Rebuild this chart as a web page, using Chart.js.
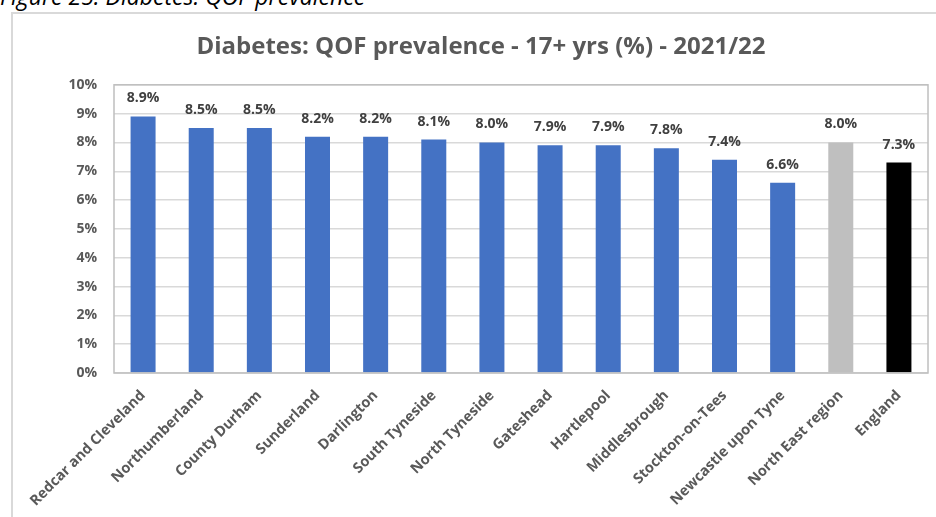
<!DOCTYPE html>
<html>
<head>
<meta charset="utf-8">
<script src="https://cdn.jsdelivr.net/npm/chart.js@4.4.1/dist/chart.umd.min.js"></script>
<style>
    body { margin: 0; width: 936px; height: 517px; overflow: hidden; background: #fff; position: relative; }
    .caption { position: absolute; left: 0; top: -15px; font-family: "Open Sans", sans-serif; font-style: italic; font-size: 23px; line-height: 1; color: #000; white-space: nowrap; }
    .frame { position: absolute; left: 11px; top: 12px; width: 960px; height: 540px; border: 2px solid #d9d9d9; box-sizing: border-box; }
    .chart_box { position: absolute; left: 0; top: 0; width: 936px; height: 517px; }
</style>
</head>
<body>
<div class="caption">Figure 25: Diabetes: QOF prevalence</div>
<div class="frame"></div>
<div class="chart_box"><canvas id="myChart"></canvas></div>

<script>
// chart data
const areas = ["Redcar and Cleveland", "Northumberland", "County Durham", "Sunderland", "Darlington",
    "South Tyneside", "North Tyneside", "Gateshead", "Hartlepool", "Middlesbrough",
    "Stockton-on-Tees", "Newcastle upon Tyne", "North East region", "England"];
const prevalence = [8.9, 8.5, 8.5, 8.2, 8.2, 8.1, 8.0, 7.9, 7.9, 7.8, 7.4, 6.6, 8.0, 7.3];
const yTicks = [0, 1, 2, 3, 4, 5, 6, 7, 8, 9, 10];

// bar colours: local authorities blue, region grey, England black
const barColors = areas.map(name => {
    if (name === "North East region") return "#BFBFBF";
    if (name === "England") return "#000000";
    return "#4472C4";
});

// value labels above bars + plot area border
const valueLabels = {
    id: "valueLabels",
    afterDatasetsDraw(chart) {
        const ctx = chart.ctx;
        const area = chart.chartArea;
        ctx.save();
        ctx.strokeStyle = "#BFBFBF";
        ctx.lineWidth = 1.5;
        ctx.strokeRect(area.left, area.top, area.right - area.left, area.bottom - area.top);

        ctx.font = "bold 14px 'Open Sans'";
        ctx.fillStyle = "#404040";
        ctx.textAlign = "center";
        ctx.textBaseline = "middle";
        chart.getDatasetMeta(0).data.forEach((bar, i) => {
            ctx.fillText(prevalence[i].toFixed(1) + "%", bar.x, bar.y - 18);
        });
        ctx.restore();
    }
};

const ctx = document.getElementById("myChart").getContext("2d");
new Chart(ctx, {
    type: "bar",
    data: {
        labels: areas,
        datasets: [{
            data: prevalence,
            backgroundColor: barColors,
            borderWidth: 0,
            categoryPercentage: 1,
            barPercentage: 0.43
        }]
    },
    options: {
        responsive: true,
        maintainAspectRatio: false,
        animation: false,
        layout: { padding: { left: 34, right: 8, top: 0, bottom: 0 } },
        plugins: {
            legend: { display: false },
            tooltip: { enabled: false },
            title: {
                display: true,
                text: "Diabetes: QOF prevalence - 17+ yrs (%) - 2021/22",
                color: "#595959",
                font: { family: "Open Sans", size: 24, weight: "bold" },
                padding: { top: 33, bottom: 23 }
            }
        },
        scales: {
            x: {
                grid: { display: false },
                border: { display: false },
                ticks: {
                    color: "#595959",
                    font: { family: "Open Sans", size: 14.5, weight: "bold" },
                    minRotation: 45,
                    maxRotation: 45,
                    autoSkip: false,
                    padding: 6
                },
                afterFit: scale => { scale.height = 144; }
            },
            y: {
                min: 0,
                max: 10,
                afterBuildTicks: scale => { scale.ticks = yTicks.map(v => ({ value: v })); },
                grid: { color: "#D9D9D9", lineWidth: 1.5, drawTicks: false },
                border: { display: false },
                ticks: {
                    color: "#595959",
                    font: { family: "Open Sans", size: 14, weight: "bold" },
                    padding: 17,
                    callback: v => v + "%"
                },
                afterFit: scale => { scale.width = 80; }
            }
        }
    },
    plugins: [valueLabels]
});
</script>
</body>
</html>
